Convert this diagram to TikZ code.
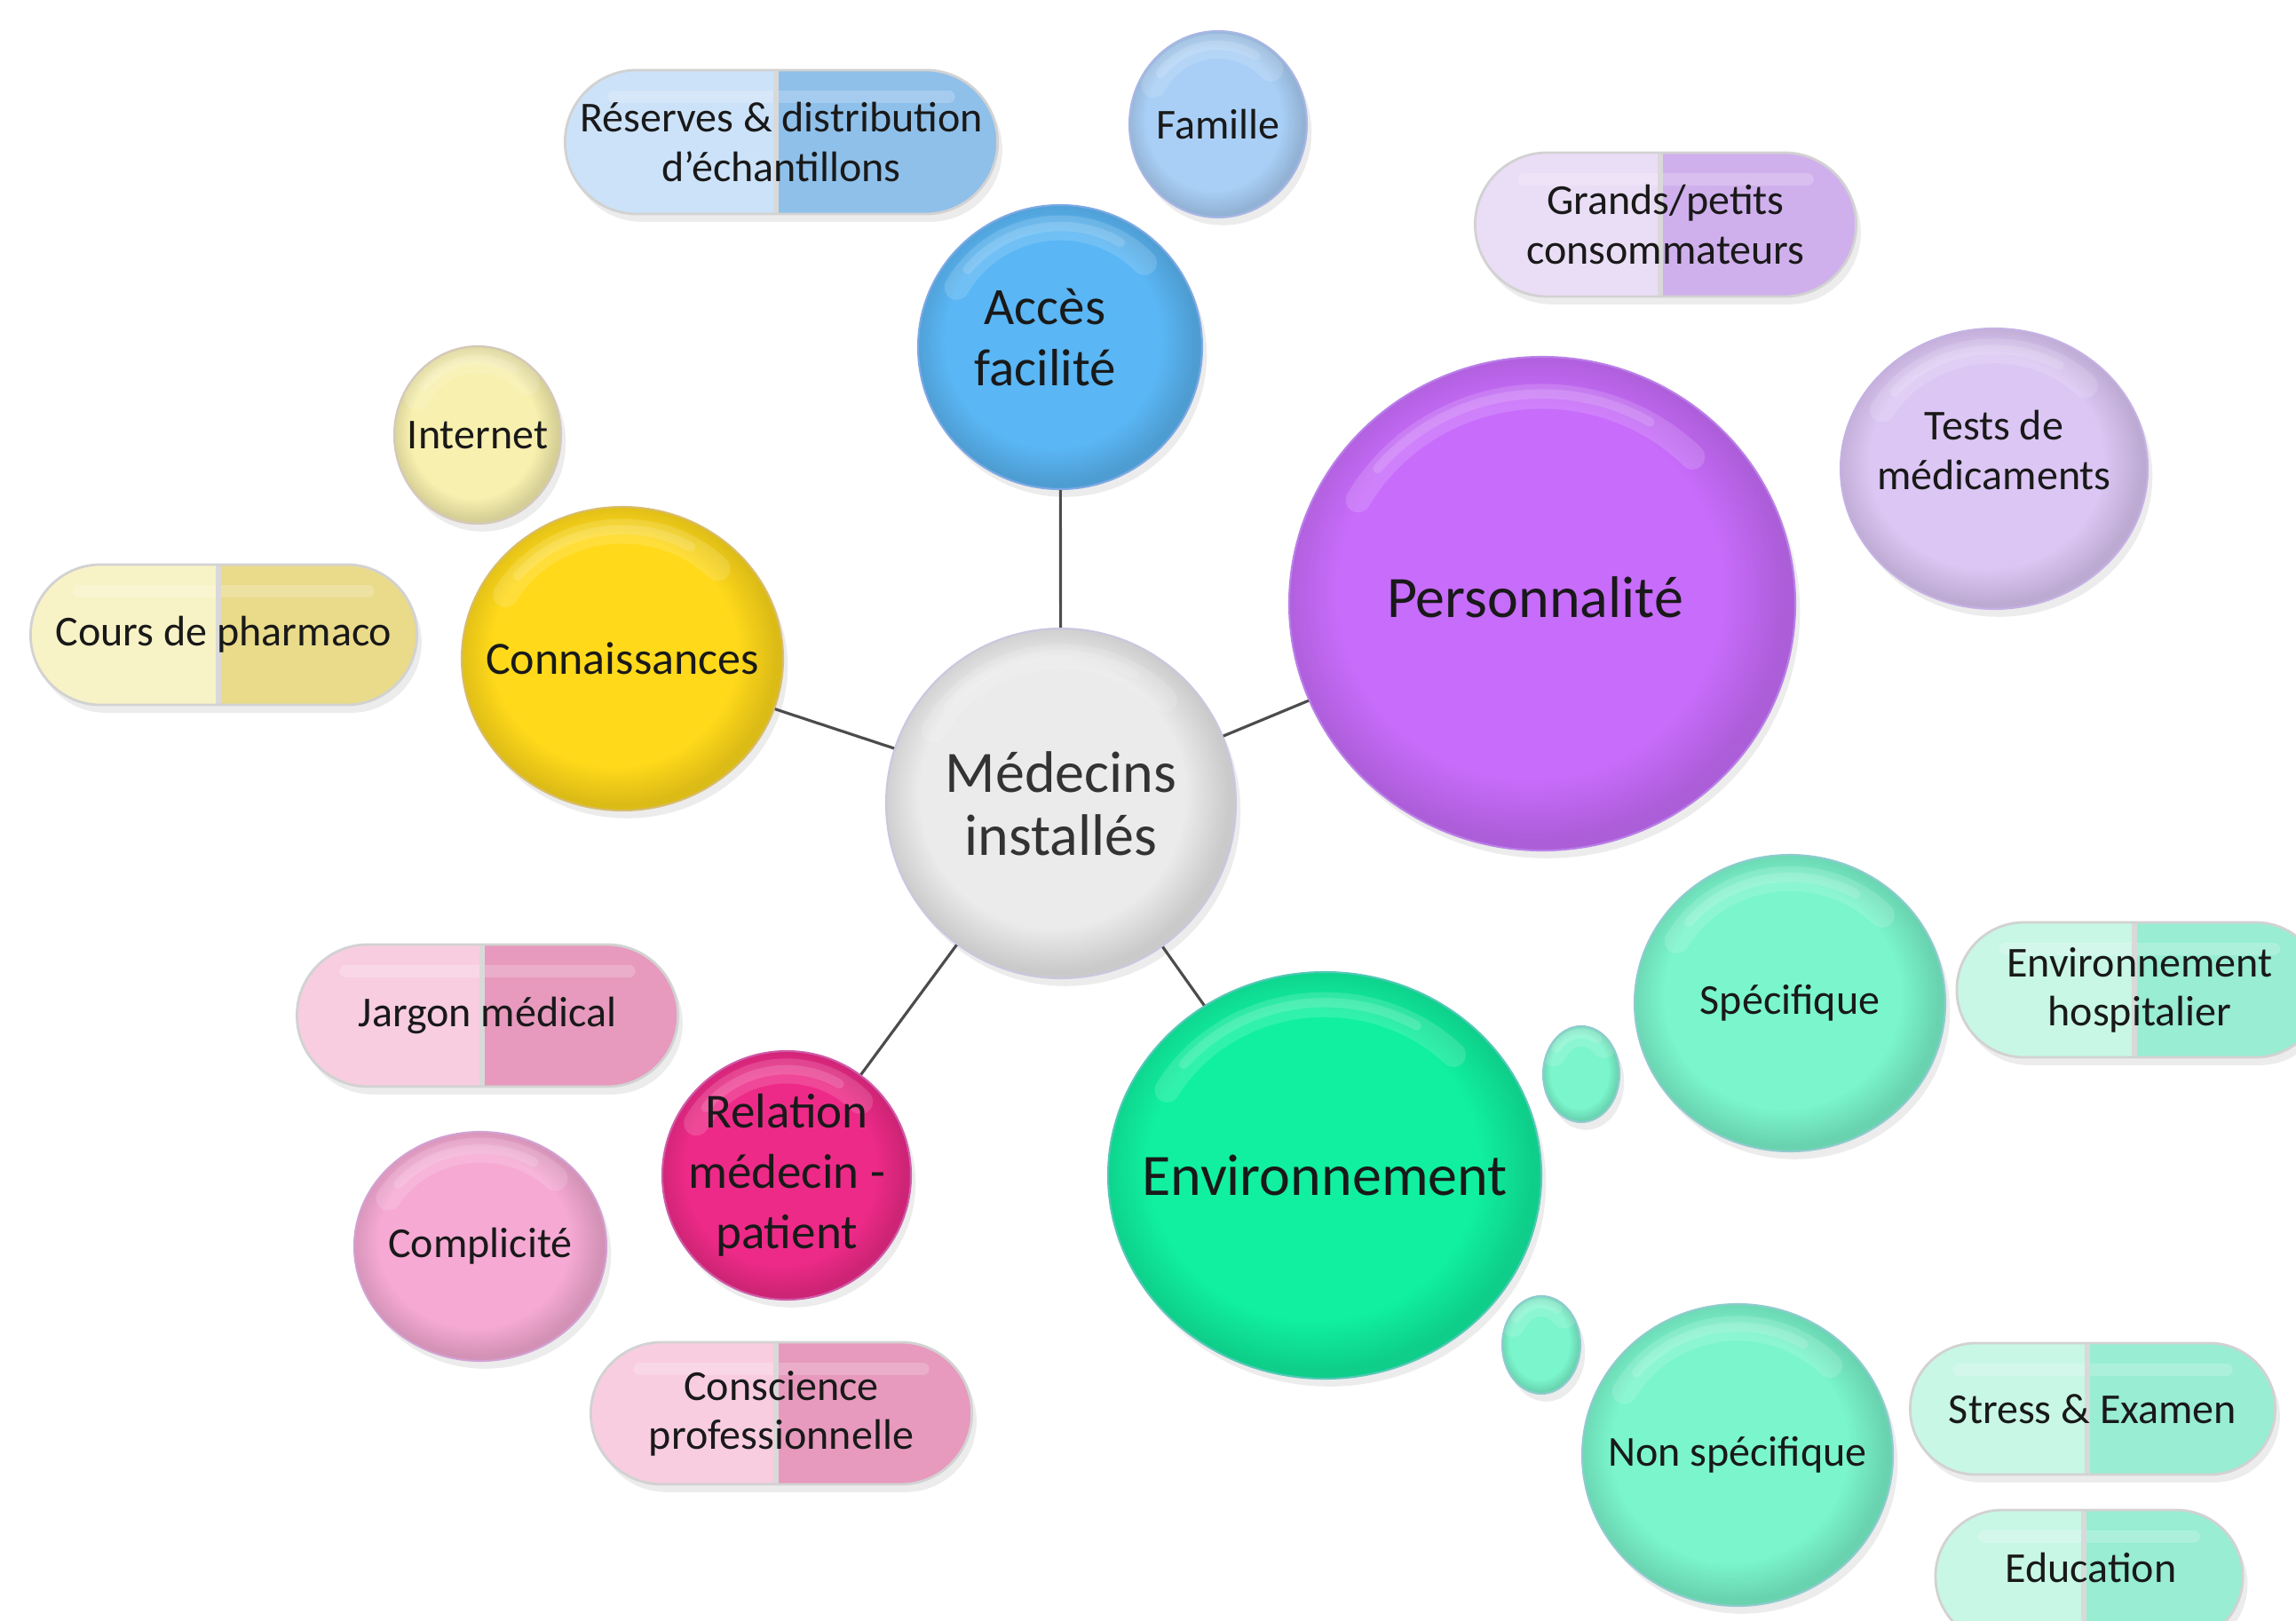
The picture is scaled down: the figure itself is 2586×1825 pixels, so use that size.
\documentclass[tikz,border=0pt]{standalone}
\usepackage{fontspec}
\setmainfont{Carlito}
\usetikzlibrary{shapes.geometric,shapes.misc,shadows}
\pgfdeclareradialshading[gelA,gelB]{gel}{\pgfpoint{-2bp}{2bp}}{color(0bp)=(gelA); color(19bp)=(gelA); color(25bp)=(gelB); color(50bp)=(gelB)}
\colorlet{gelA}{white}\colorlet{gelB}{gray}
\definecolor{lav}{HTML}{A898D0}
\definecolor{cCenter}{HTML}{EBEBEB}
\definecolor{cAcces}{HTML}{5AB6F4}
\definecolor{cFamille}{HTML}{A9CFF6}
\definecolor{cTests}{HTML}{DCC6F4}
\definecolor{cPerso}{HTML}{C86CFB}
\definecolor{cConn}{HTML}{FFD91A}
\definecolor{cInternet}{HTML}{F8F0AE}
\definecolor{cEnv}{HTML}{10F0A0}
\definecolor{cSpec}{HTML}{7AF5CC}
\definecolor{cRel}{HTML}{EE2A88}
\definecolor{cCompl}{HTML}{F5A9D3}
\definecolor{pBlueL}{HTML}{CCE2F8}\definecolor{pBlueR}{HTML}{8FC0EA}
\definecolor{pLilaL}{HTML}{EADDF6}\definecolor{pLilaR}{HTML}{D0B0EC}
\definecolor{pYelL}{HTML}{F8F3C6}\definecolor{pYelR}{HTML}{E9DB8A}
\definecolor{pGrnL}{HTML}{C8F7E6}\definecolor{pGrnR}{HTML}{98EDD2}
\definecolor{pPnkL}{HTML}{F8CDE0}\definecolor{pPnkR}{HTML}{E79ABD}
\tikzset{
  bub/.style n args={3}{ellipse, inner sep=-0.6cm, align=center, text=black!90,
    minimum width={2*#2*0.01cm}, minimum height={2*#3*0.01cm},
    /utils/exec={\colorlet{gelA}{#1}\colorlet{gelB}{#1!86!black}},
    shade, shading=gel, draw=#1!55!lav, line width=0.6pt,
    drop shadow={shadow xshift=1.5pt, shadow yshift=-2.5pt, opacity=0.15},
    path picture={
      \draw[white, opacity=0.14, line width=8pt, line cap=round]
        (path picture bounding box.center) ++(150:{0.84*#2*0.01cm} and {0.84*#3*0.01cm})
        arc[start angle=150, end angle=45, x radius={0.84*#2*0.01cm}, y radius={0.84*#3*0.01cm}];
      \draw[white, opacity=0.14, line width=3pt, line cap=round]
        (path picture bounding box.center) ++(140:{0.85*#2*0.01cm} and {0.85*#3*0.01cm})
        arc[start angle=140, end angle=60, x radius={0.85*#2*0.01cm}, y radius={0.85*#3*0.01cm}];
    }},
  pill/.style 2 args={rounded rectangle, inner sep=0pt, align=center, text=black!90,
    draw=gray!35, line width=0.8pt,
    font=\fontsize{13.66pt}{15.65pt}\selectfont,
    drop shadow={shadow xshift=1.5pt, shadow yshift=-2.5pt, opacity=0.15},
    path picture={
      \fill[#1] (path picture bounding box.south west) rectangle ([xshift=-0.06cm]path picture bounding box.north);
      \fill[#2] ([xshift=-0.06cm]path picture bounding box.south) rectangle (path picture bounding box.north east);
      \draw[white, opacity=0.2, line width=4pt, line cap=round] ([xshift=0.55cm,yshift=-0.3cm]path picture bounding box.north west) -- ([xshift=-0.55cm,yshift=-0.3cm]path picture bounding box.north east);
      \draw[gray!30, line width=1.5pt] ([xshift=-0.06cm]path picture bounding box.south) -- ([xshift=-0.06cm]path picture bounding box.north);
    }},
  fbig/.style={font=\fontsize{18.78pt}{20.2pt}\selectfont},
  fsmall/.style={font=\fontsize{13.66pt}{15.65pt}\selectfont},
  lbl/.style={align=center, inner sep=0pt, text=black!90},
  link/.style={draw=black!70, line width=0.9pt}
}
\begin{document}
\begin{tikzpicture}[x=0.01cm, y=-0.01cm]
\useasboundingbox (0,0) rectangle (2586,1825);

% main bubbles
\node[bub={cCenter}{197}{197}, fbig, text=black!80] (center) at (1195,905) {Médecins\\installés};
\node[bub={cAcces}{160}{160}] (acces) at (1194,391) {};
\node[lbl, font=\fontsize{16.8pt}{19.6pt}\selectfont] (acces-t) at (1177,380) {Accès\\facilité};
\node[bub={cPerso}{285}{278}] (perso) at (1737,680) {};
\node[lbl, fbig] (perso-t) at (1729,673) {Personnalité};
\node[bub={cConn}{181}{171}, font=\fontsize{14.8pt}{17pt}\selectfont] (conn) at (701,742) {Connaissances};
\node[bub={cEnv}{244}{229}, fbig] (env) at (1492,1324) {Environnement};
\node[bub={cRel}{140}{140}, font=\fontsize{15.65pt}{19.35pt}\selectfont] (rel) at (886,1324) {Relation\\médecin -\\patient};

% secondary bubbles
\node[bub={cFamille}{100}{105}, fsmall] (famille) at (1372,140) {Famille};
\node[bub={cTests}{173}{158}] (tests) at (2246,528) {};
\node[lbl, fsmall] (tests-t) at (2246,507) {Tests de\\médicaments};
\node[bub={cInternet}{94}{100}, fsmall] (internet) at (538,490) {Internet};
\node[bub={cSpec}{175}{167}, fsmall] (spec) at (2016,1130) {Spécifique};
\node[bub={cSpec}{175}{170}, fsmall] (nonspec) at (1957,1639) {Non spécifique};
\node[bub={cSpec}{43}{54}] (dot1) at (1781,1210) {};
\node[bub={cSpec}{44}{55}] (dot2) at (1736,1515) {};
\node[bub={cCompl}{142}{129}, fsmall] (compl) at (541,1404) {Complicité};

% pills
\node[pill={pBlueL}{pBlueR}, minimum width=4.87cm, minimum height=1.62cm] (reserves) at (880,160) {Réserves \& distribution\\d’échantillons};
\node[pill={pLilaL}{pLilaR}, minimum width=4.29cm, minimum height=1.62cm] (grands) at (1876,253) {Grands/petits\\consommateurs};
\node[pill={pYelL}{pYelR}, minimum width=4.35cm, minimum height=1.58cm] (cours) at (252,715) {Cours de pharmaco};
\node[pill={pGrnL}{pGrnR}, minimum width=4.12cm, minimum height=1.52cm] (envhosp) at (2410,1115) {Environnement\\hospitalier};
\node[pill={pGrnL}{pGrnR}, minimum width=4.11cm, minimum height=1.48cm] (stress) at (2357,1587) {Stress \& Examen};
\node[pill={pGrnL}{pGrnR}, minimum width=3.46cm, minimum height=1.5cm] (educ) at (2353,1776) {};
\node[lbl, fsmall] (educ-t) at (2355,1766) {Education};
\node[pill={pPnkL}{pPnkR}, minimum width=4.29cm, minimum height=1.6cm] (jargon) at (549,1144) {Jargon médical};
\node[pill={pPnkL}{pPnkR}, minimum width=4.29cm, minimum height=1.6cm] (conscience) at (880,1592) {Conscience\\professionnelle};

% connectors
\draw[link] (center) -- (acces);
\draw[link] (center) -- (conn);
\draw[link] (center) -- (perso);
\draw[link] (center) -- (env);
\draw[link] (center) -- (rel);
\end{tikzpicture}
\end{document}
